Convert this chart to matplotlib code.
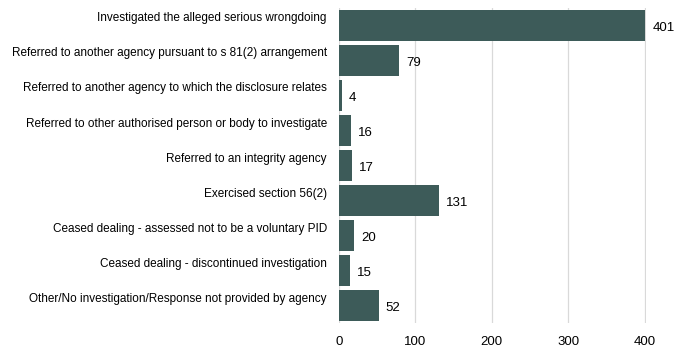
import matplotlib
matplotlib.use("Agg")
from matplotlib import pyplot as plt
from matplotlib.transforms import offset_copy

categories = [
    "Investigated the alleged serious wrongdoing",
    "Referred to another agency pursuant to s 81(2) arrangement",
    "Referred to another agency to which the disclosure relates",
    "Referred to other authorised person or body to investigate",
    "Referred to an integrity agency",
    "Exercised section 56(2)",
    "Ceased dealing - assessed not to be a voluntary PID",
    "Ceased dealing - discontinued investigation",
    "Other/No investigation/Response not provided by agency",
]
values = [401, 79, 4, 16, 17, 131, 20, 15, 52]
xticks = [0, 100, 200, 300, 400]

bar_color = "#3d5b59"
label_font = ["Liberation Sans Narrow", "Liberation Sans", "DejaVu Sans"]
num_font = ["Liberation Sans", "DejaVu Sans"]

fig = plt.figure(figsize=(6.83, 3.61), dpi=100)
ax = fig.add_axes([0.496, 0.105, 0.45, 0.873])

ypos = list(range(len(categories)))
ax.barh(ypos, values, height=0.88, color=bar_color, zorder=3)
ax.set_ylim(len(categories) - 0.5, -0.5)
ax.set_xlim(0, 402)
ax.set_xticks(xticks)
ax.tick_params(axis="x", length=0, labelsize=9.5, pad=9)
for t in ax.get_xticklabels():
    t.set_family(num_font)
ax.set_yticks([])
ax.grid(axis="x", color="#d9d9d9", linewidth=0.9, zorder=0)
for s in ax.spines.values():
    s.set_visible(False)

# category labels sit a bit above the bar centre
lab_tr = offset_copy(ax.get_yaxis_transform(), fig=fig, x=-12, y=7, units="dots")
for y, cat in zip(ypos, categories):
    ax.text(0, y, cat, transform=lab_tr, ha="right", va="center",
            fontsize=8.5, family=label_font)

# value labels to the right of each bar
for y, v in zip(ypos, values):
    ax.annotate(str(v), (v, y), xytext=(5, -2), textcoords="offset points",
                ha="left", va="center", fontsize=9.5, family=num_font)

fig.savefig("out.png", dpi=100)
